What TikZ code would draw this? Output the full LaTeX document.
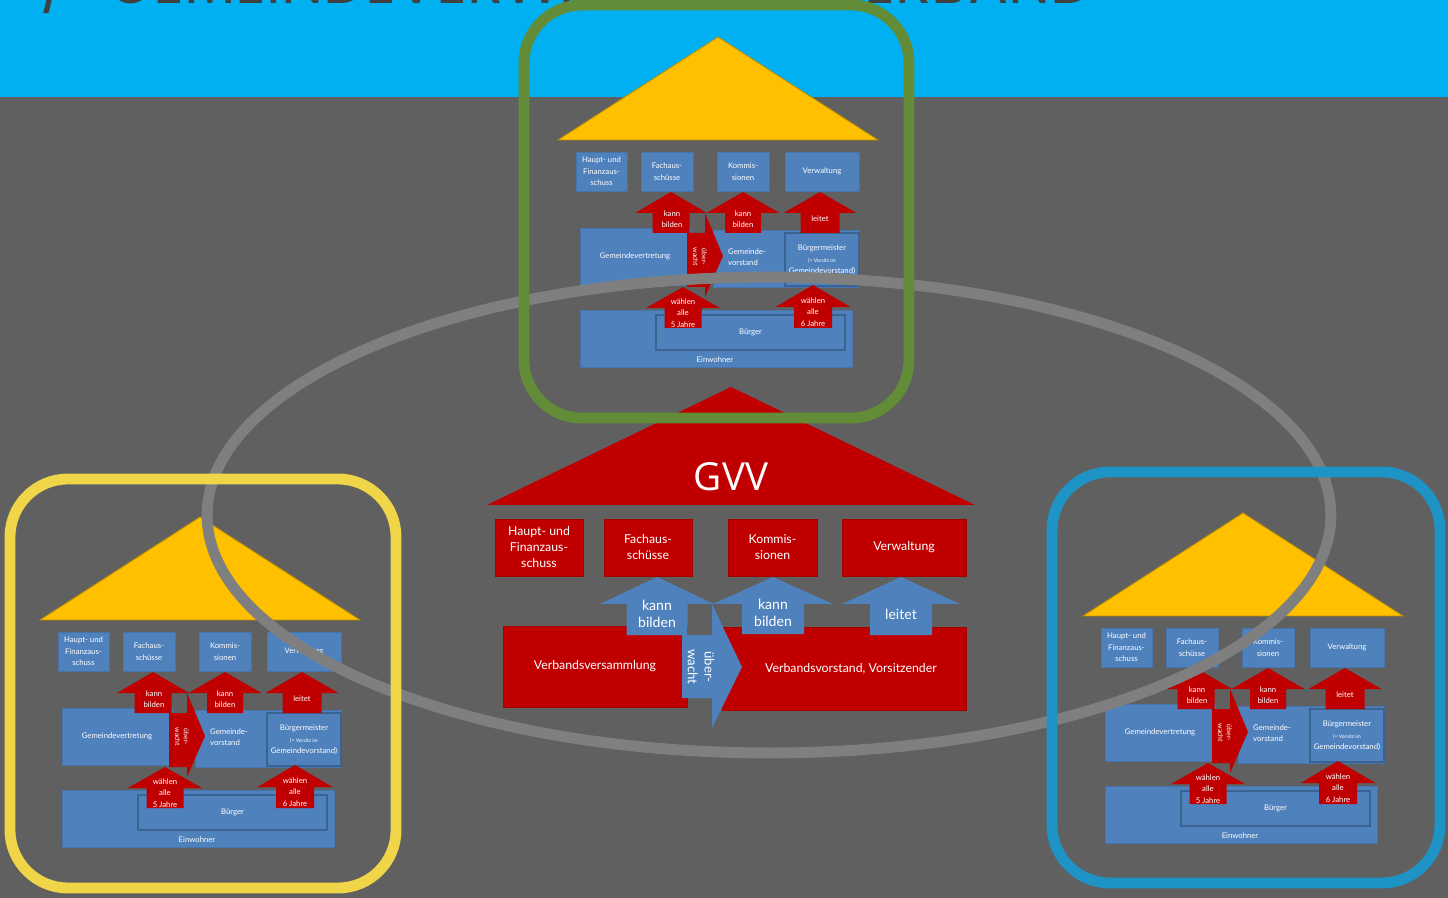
\documentclass[tikz,border=0pt]{standalone}
\usepackage{fontspec}
\setmainfont{Lato}
\newfontfamily\gvvfont{Open Sans}
\newfontfamily\titlefont{Poppins}

\definecolor{bandblue}{HTML}{00B0F0}
\definecolor{slate}{HTML}{606060}
\definecolor{gvvred}{HTML}{C00000}
\definecolor{boxblue}{HTML}{4F81BD}
\definecolor{boxedge}{HTML}{4674AB}
\definecolor{innerline}{HTML}{3A6391}
\definecolor{roofyellow}{HTML}{FFC000}
\definecolor{roofedge}{HTML}{BF9000}
\definecolor{ringgrey}{HTML}{7F7F7F}
\definecolor{framegreen}{HTML}{628C37}
\definecolor{frameyellow}{HTML}{F0D548}
\definecolor{frameblue}{HTML}{1E93C6}
\definecolor{titlegrey}{HTML}{404040}

\newcommand\notesize{\fontsize{2.9}{4.3}\selectfont}

\tikzset{
  bluebox/.style={fill=boxblue, draw=boxedge, line width=0.3pt},
  innerbox/.style={fill=boxblue, draw=innerline, line width=0.6pt},
  redbox/.style={fill=gvvred, draw=gvvred!85!black, line width=0.3pt},
  roof/.style={fill=roofyellow, draw=roofedge, line width=0.5pt},
  txt/.style={text=white, align=center, inner sep=0pt},
  stxt/.style={txt, font=\fontsize{4.4}{6.6}\selectfont},
  gtxt/.style={txt, font=\fontsize{7}{9.1}\selectfont},
  gatxt/.style={txt, font=\fontsize{8}{10}\selectfont},
  frame/.style={line width=6.2pt, rounded corners=33pt},
}

% box with a label in its middle
\newcommand\panel[8]{%
  \path[#6] (#2,#3) rectangle (#4,#5);
  \node[#7] (#1) at ({(#2+#4)/2},{(#3+#5)/2}) {#8};}

% block arrow pointing up: colour, centre x, tip y, head half, shaft half, head base y, bottom y
\newcommand\blockup[7]{%
  \fill[#1] ({#2-#5},#7) -- ({#2-#5},#6) -- ({#2-#4},#6) -- (#2,#3)
    -- ({#2+#4},#6) -- ({#2+#5},#6) -- ({#2+#5},#7) -- cycle;}

% block arrow pointing right: colour, x1, x2, body top, body bottom, head top, tip x, tip y, head bottom
\newcommand\blockright[9]{%
  \fill[#1] (#2,#4) -- (#3,#4) -- (#3,#6) -- (#7,#8) -- (#3,#9)
    -- (#3,#5) -- (#2,#5) -- cycle;}

% one municipality house
\newcommand\gemeinde[1]{%
  \filldraw[roof] (40,620) -- (200,517) -- (360,620) -- cycle;
  \panel{hfa#1}{58}{632}{109}{671}{bluebox}{stxt}{Haupt- und\\Finanzaus-\\schuss}
  \panel{fas#1}{123}{632}{175}{671}{bluebox}{stxt}{Fachaus-\\schüsse}
  \panel{kom#1}{199}{632}{251}{671}{bluebox}{stxt}{Kommis-\\sionen}
  \panel{vw#1}{267}{632}{341}{671}{bluebox}{stxt}{Verwaltung}
  \path[bluebox] (62,790) rectangle (334,847);
  \node[stxt] (ew#1) at (197,840) {Einwohner};
  \panel{bg#1}{138}{795}{327}{830}{innerbox}{stxt}{Bürger}
  \panel{gv#1}{62}{708}{172}{765}{bluebox}{stxt}{Gemeindevertretung}
  \path[bluebox] (195,710) rectangle (341,767);
  \node[stxt, align=left] (gvs#1) at (229,737) {Gemeinde-\\vorstand};
  \path[innerbox] (267,713) rectangle (341,766);
  \node[stxt] (bm#1) at (304,740) {Bürgermeister\\\notesize(= Vorsitz im\\Gemeindevorstand)};
  \blockup{gvvred}{153}{672}{36}{18.5}{693}{713}
  \node[stxt] (kb#1a) at (154,699) {kann\\bilden};
  \blockup{gvvred}{225}{672}{36.5}{18}{693}{713}
  \node[stxt] (kb#1b) at (225,699) {kann\\bilden};
  \blockup{gvvred}{302}{672}{36.5}{19.5}{693}{713}
  \node[stxt] (le#1) at (302,699) {leitet};
  \blockup{gvvred}{165}{767}{37}{18.5}{788}{808}
  \node[stxt] (wa#1a) at (165,793) {wählen\\alle\\5 Jahre};
  \blockup{gvvred}{295}{765}{37.5}{19}{787}{808}
  \node[stxt] (wa#1b) at (295,792) {wählen\\alle\\6 Jahre};
  \blockright{gvvred}{169}{187}{713}{767}{693}{205}{736}{777}
  \node[txt, rotate=-90, font=\fontsize{3.9}{5}\selectfont] (ue#1) at (182,737) {über-\\wacht};
}

\begin{document}
\begin{tikzpicture}[x=0.02cm, y=-0.02cm]
\useasboundingbox (0,0) rectangle (1448,898);
\clip (0,0) rectangle (1448,898);

% background and title
\fill[slate] (0,0) rectangle (1448,898);
\fill[bandblue] (0,0) rectangle (1448,97);
\node[anchor=base west, inner sep=0pt, text=titlegrey, font=\titlefont\fontsize{34}{34}\selectfont]
  (title) at (40,4) {/\hspace{22pt}GEMEINDEVERWALTUNGSVERBAND};

% member municipalities
\begin{scope}
  \gemeinde{L}
\end{scope}
\begin{scope}[shift={(518,-480)}]
  \gemeinde{T}
\end{scope}
\begin{scope}[shift={(1043,-4)}]
  \gemeinde{R}
\end{scope}

% GVV house
\fill[gvvred] (487,505) -- (731,387) -- (975,505) -- cycle;
\node[text=white, inner sep=0pt, font=\gvvfont\fontsize{22}{26}\selectfont] (gvv) at (731,477) {GVV};
\panel{ghfa}{495}{519}{583}{576}{redbox}{gtxt}{Haupt- und\\Finanzaus-\\schuss}
\panel{gfas}{604}{519}{692}{576}{redbox}{gtxt}{Fachaus-\\schüsse}
\panel{gkom}{728}{519}{817}{576}{redbox}{gtxt}{Kommis-\\sionen}
\panel{gvw}{842}{519}{966}{576}{redbox}{gtxt}{Verwaltung}
\panel{vv}{503}{626}{687}{707}{redbox}{gtxt}{Verbandsversammlung}
\path[redbox] (722,627) rectangle (966,710);
\node[gtxt] (vvo) at (851,669) {Verbandsvorstand, Vorsitzender};
\blockup{boxblue}{657}{577}{57}{30.5}{604}{635}
\node[gatxt] (gkba) at (657,614) {kann\\bilden};
\blockup{boxblue}{773}{577}{60}{31}{604}{634}
\node[gatxt] (gkbb) at (773,613) {kann\\bilden};
\blockup{boxblue}{901}{577}{59}{31}{604}{635}
\node[gatxt] (gle) at (901,614) {leitet};
\blockright{boxblue}{682}{712}{635}{698}{604}{742}{667}{728}
\node[txt, rotate=-90, font=\fontsize{7.5}{9.6}\selectfont] (gue) at (701,667) {über-\\wacht};

% ring and frames
\draw[ringgrey, line width=6.2pt] (769,515) ellipse [x radius=11.24cm, y radius=4.76cm];
\draw[frame, framegreen] (524,5) rectangle (909,418);
\draw[frame, frameyellow] (10,479) rectangle (396,888);
\draw[frame, frameblue] (1052,472) rectangle (1440,883);
\end{tikzpicture}
\end{document}
